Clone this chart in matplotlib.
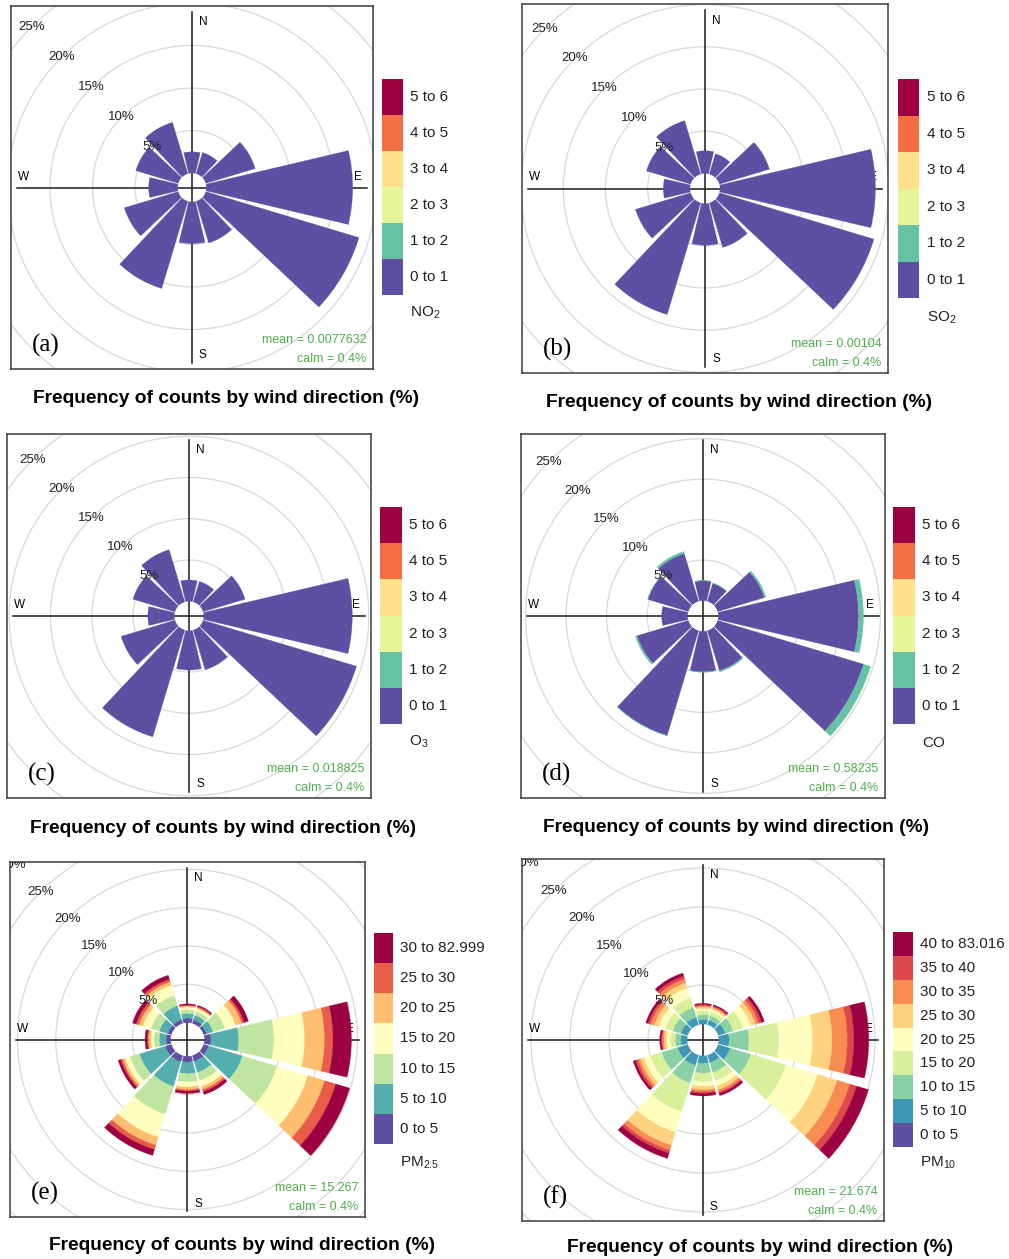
import matplotlib.pyplot as plt
from matplotlib.patches import Circle, Rectangle, Wedge
import numpy as np

plt.rcParams['font.family'] = ['Liberation Sans', 'DejaVu Sans']
plt.rcParams['mathtext.fontset'] = 'custom'
plt.rcParams['mathtext.rm'] = 'Liberation Sans'

W, H = 1009, 1259

# wind sectors (degrees from north, clockwise)
directions = [0, 30, 60, 90, 120, 150, 180, 210, 240, 270, 300, 330]

# concentration bands, bottom to top of the legend
gas_bins = ['0 to 1', '1 to 2', '2 to 3', '3 to 4', '4 to 5', '5 to 6']
pm25_bins = ['0 to 5', '5 to 10', '10 to 15', '15 to 20', '20 to 25', '25 to 30', '30 to 82.999']
pm10_bins = ['0 to 5', '5 to 10', '10 to 15', '15 to 20', '20 to 25', '25 to 30',
             '30 to 35', '35 to 40', '40 to 83.016']

# frequency of counts (%) per sector, one list per concentration band
no2_0to1 = [2.5, 2.6, 6.06, 17.2, 18.8, 5.1, 4.9, 10.7, 6.6, 3.4, 5.2, 6.3]
so2_0to1 = [2.68, 2.5, 6.17, 18.4, 19.1, 5.5, 4.93, 13.8, 6.8, 3.15, 5.45, 6.6]
o3_0to1 = [2.58, 2.58, 5.3, 18.0, 19.4, 5.0, 4.76, 13.5, 6.8, 3.2, 5.3, 6.6]
co_0to1 = [2.45, 2.3, 6.0, 17.3, 18.8, 5.15, 5.0, 13.5, 6.6, 3.2, 5.2, 6.15]
co_1to2 = [0.05, 0.05, 0.2, 0.6, 0.9, 0.15, 0.05, 0.05, 0.2, 0.0, 0.05, 0.25]

pm25_0to5 = [0.6, 0.5, 0.4, 0.87, 0.7, 0.8, 0.75, 0.85, 0.85, 0.6, 0.5, 0.5]
pm25_5to10 = [0.6, 0.6, 0.9, 3.63, 4.6, 1.5, 1.5, 3.35, 3.5, 0.9, 1.15, 1.9]
pm25_10to15 = [0.5, 0.55, 1.6, 4.6, 4.7, 1.1, 1.1, 3.8, 1.3, 0.7, 1.15, 1.4]
pm25_15to20 = [0.35, 0.35, 1.45, 4.0, 4.2, 0.8, 0.65, 3.1, 0.65, 0.4, 1.1, 1.4]
pm25_20to25 = [0.15, 0.15, 0.85, 2.6, 2.3, 0.4, 0.35, 1.1, 0.35, 0.3, 0.5, 0.45]
pm25_25to30 = [0.1, 0.15, 0.3, 1.1, 1.5, 0.3, 0.2, 0.6, 0.25, 0.15, 0.4, 0.35]
pm25_30plus = [0.15, 0.15, 0.6, 2.4, 1.9, 0.4, 0.3, 0.8, 0.35, 0.3, 0.5, 0.55]

pm10_0to5 = [0, 0, 0, 0.05, 0.05, 0, 0, 0.05, 0.05, 0, 0, 0]
pm10_5to10 = [0.6, 0.6, 0.95, 1.25, 1.55, 1.0, 0.95, 1.3, 1.3, 0.8, 0.9, 1.0]
pm10_10to15 = [0.6, 0.6, 1.05, 2.55, 2.75, 1.3, 1.25, 2.35, 2.15, 0.7, 1.1, 1.3]
pm10_15to20 = [0.5, 0.5, 1.3, 3.85, 4.7, 1.1, 1.1, 3.85, 1.5, 0.6, 1.0, 1.3]
pm10_20to25 = [0.3, 0.3, 1.05, 4.3, 4.25, 0.7, 0.6, 2.75, 0.85, 0.5, 0.9, 1.3]
pm10_25to30 = [0.2, 0.2, 0.65, 2.5, 2.6, 0.5, 0.45, 1.75, 0.5, 0.35, 0.6, 0.7]
pm10_30to35 = [0.15, 0.15, 0.4, 1.95, 1.7, 0.3, 0.25, 0.65, 0.35, 0.2, 0.5, 0.5]
pm10_35to40 = [0.15, 0.15, 0.4, 0.85, 0.9, 0.2, 0.2, 0.4, 0.3, 0.15, 0.3, 0.4]
pm10_40plus = [0.15, 0.15, 0.35, 1.9, 1.6, 0.3, 0.33, 0.7, 0.3, 0.2, 0.3, 0.4]

mean_labels = ['mean = 0.0077632', 'mean = 0.00104', 'mean = 0.018825',
               'mean = 0.58235', 'mean = 15.267', 'mean = 21.674']
calm_label = 'calm = 0.4%'
pollutants = ['NO$_2$', 'SO$_2$', 'O$_3$', 'CO', 'PM$_{2.5}$', 'PM$_{10}$']
letters = ['(a)', '(b)', '(c)', '(d)', '(e)', '(f)']
title = 'Frequency of counts by wind direction (%)'

fig = plt.figure(figsize=(W / 100, H / 100), dpi=100)


def draw_panel(i, bands, bin_labels, box, ppp, hole, leg_box, lab_x, poll_y, title_xy):
    l, t, r, b = box
    ax = fig.add_axes([l / W, 1 - b / H, (r - l) / W, (b - t) / H])
    hw = (r - l) / 2 / ppp
    hh = (b - t) / 2 / ppp
    ax.set_xlim(-hw, hw)
    ax.set_ylim(-hh, hh)
    ax.set_xticks([])
    ax.set_yticks([])
    for s in ax.spines.values():
        s.set_color('#3a3a3a')
        s.set_linewidth(1.1)

    # grid circles and their labels (a label whose centre falls outside the box is left out)
    for k in range(1, 7):
        rr = hole + 5 * k
        ax.add_patch(Circle((0, 0), rr, fill=False, ec='#d8d8d8', lw=0.9, zorder=1))
        lx, ly = -rr * 0.7071, rr * 0.7071
        if abs(lx) < hw and ly < hh:
            ax.text(lx, ly, f'{5 * k}%', ha='center', va='center',
                    fontsize=9.5, color='#222222', zorder=6, clip_on=True)

    ax.plot([-0.967 * hw, 0.967 * hw], [0, 0], color='#1a1a1a', lw=1.1, zorder=2)
    ax.plot([0, 0], [-0.967 * hh, 0.967 * hh], color='#1a1a1a', lw=1.1, zorder=2)
    ax.text(0.06 * hw, 0.91 * hh, 'N', ha='center', va='center', fontsize=8.5, zorder=2.5)
    ax.text(0.06 * hw, -0.925 * hh, 'S', ha='center', va='center', fontsize=8.5, zorder=2.5)
    ax.text(-0.93 * hw, 0.06 * hh, 'W', ha='center', va='center', fontsize=8.5, zorder=2.5)
    ax.text(0.915 * hw, 0.06 * hh, 'E', ha='center', va='center', fontsize=8.5, zorder=2.5)

    # stacked wedges
    colors = plt.get_cmap('Spectral_r')(np.linspace(0, 1, len(bin_labels)))
    inner = np.full(len(directions), float(hole))
    for vals, col in zip(bands, colors):
        vals = np.asarray(vals, dtype=float)
        for d, v, r0 in zip(directions, vals, inner):
            if v > 0:
                ax.add_patch(Wedge((0, 0), r0 + v, 90 - d - 13.3, 90 - d + 13.3, width=v,
                                   fc=col, ec=col, lw=0.2, zorder=3))
        inner = inner + vals

    ax.text(1 - 6.5 / (r - l), 29 / (b - t), mean_labels[i], transform=ax.transAxes,
            ha='right', va='center', fontsize=9, color='#4fae4f', zorder=7)
    ax.text(1 - 6.5 / (r - l), 10 / (b - t), calm_label, transform=ax.transAxes,
            ha='right', va='center', fontsize=9, color='#4fae4f', zorder=7)
    ax.text(21 / (r - l), 24 / (b - t), letters[i], transform=ax.transAxes,
            ha='left', va='center', fontsize=18, family='Liberation Serif', zorder=7)

    # legend key
    ll, lt, lr, lb = leg_box
    lax = fig.add_axes([ll / W, 1 - lb / H, (lr - ll) / W, (lb - lt) / H])
    n = len(bin_labels)
    lax.set_xlim(0, 1)
    lax.set_ylim(0, n)
    lax.axis('off')
    for j in range(n):
        lax.add_patch(Rectangle((0, j), 1, 1, fc=colors[j], ec='none'))
        lax.text((lab_x - ll) / (lr - ll), j + 0.5, bin_labels[j], ha='left', va='center',
                 fontsize=11, color='#222222', clip_on=False)
    fig.text(lab_x / W, 1 - poll_y / H, pollutants[i], ha='left', va='center',
             fontsize=11, color='#222222')

    fig.text(title_xy[0] / W, 1 - title_xy[1] / H, title, ha='center', va='center',
             fontsize=13.8, fontweight='bold')


draw_panel(0, [no2_0to1], gas_bins, (11, 6, 373, 369), 8.5, 1.7,
           (382, 79, 403, 295), 410, 313, (225.7, 398.3))
draw_panel(1, [so2_0to1], gas_bins, (522, 4, 888, 373), 8.44, 1.79,
           (898, 79, 919, 298), 927, 318, (739, 402.7))
draw_panel(2, [o3_0to1], gas_bins, (7, 434, 371, 798), 8.25, 1.79,
           (380, 507, 402, 724), 409, 742, (223.3, 828.3))
draw_panel(3, [co_0to1, co_1to2], gas_bins, (521, 434, 885, 798), 8.1, 1.9,
           (893, 507, 915, 724), 922, 743, (736.5, 827))
draw_panel(4, [pm25_0to5, pm25_5to10, pm25_10to15, pm25_15to20, pm25_20to25,
               pm25_25to30, pm25_30plus], pm25_bins, (10, 862, 365, 1217), 7.66, 2.2,
           (374, 933, 393, 1144), 400, 1163, (242.5, 1245))
draw_panel(5, [pm10_0to5, pm10_5to10, pm10_10to15, pm10_15to20, pm10_20to25,
               pm10_25to30, pm10_30to35, pm10_35to40, pm10_40plus], pm10_bins,
           (522, 859, 884, 1221), 7.8, 2.05,
           (893, 932, 913, 1147), 920, 1163, (760, 1248))

fig.savefig('out.png', dpi=100)
